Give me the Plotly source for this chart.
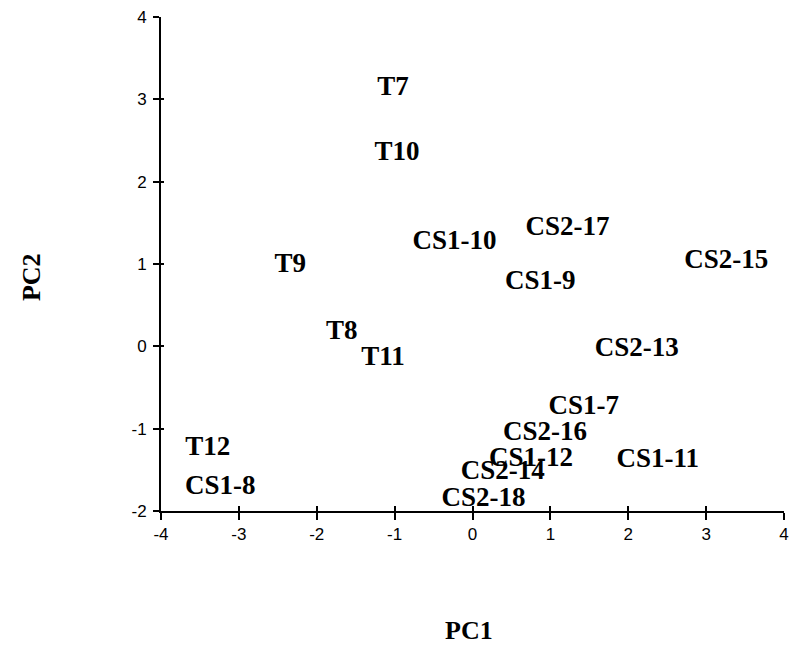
import plotly.graph_objects as go

labels = ["T7", "T10", "CS1-10", "CS2-17", "CS2-15", "T9", "CS1-9", "T8", "T11",
          "CS2-13", "CS1-7", "CS2-16", "CS1-12", "CS2-14", "CS2-18", "CS1-11",
          "T12", "CS1-8"]
pc1 = [-1.02, -0.97, -0.23, 1.22, 3.26, -2.34, 0.87, -1.68, -1.15,
       2.11, 1.43, 0.93, 0.75, 0.39, 0.14, 2.38, -3.40, -3.24]
pc2 = [3.13, 2.34, 1.27, 1.43, 1.03, 0.98, 0.78, 0.17, -0.15,
       -0.04, -0.74, -1.06, -1.37, -1.53, -1.86, -1.38, -1.24, -1.71]

x_ticks = [-4, -3, -2, -1, 0, 1, 2, 3, 4]
x_ticktext = ["-4", "-3", "-2", "-1", "0", "1", "2", "3", "4"]
y_ticks = [-2, -1, 0, 1, 2, 3, 4]
y_ticktext = ["-2", "-1", "0", "1", "2", "3", "4"]

fig = go.Figure()
fig.add_trace(go.Scatter(
    x=pc1, y=pc2, mode="text", text=labels, textposition="middle center",
    textfont=dict(family="Liberation Serif", size=27, color="black", weight="bold"),
    hoverinfo="skip", showlegend=False, cliponaxis=False))
# invisible trace on overlay axes to draw the inner halves of crossing ticks
fig.add_trace(go.Scatter(x=[0], y=[0], xaxis="x2", yaxis="y2", mode="markers",
                         marker=dict(opacity=0), showlegend=False, hoverinfo="skip"))

tickfont = dict(family="Liberation Sans", size=17, color="black")
fig.update_layout(
    width=794, height=648,
    margin=dict(l=161, r=5, t=17, b=137),
    paper_bgcolor="white", plot_bgcolor="white",
    xaxis=dict(range=[-4, 4], tickvals=x_ticks, ticktext=x_ticktext, showgrid=False,
               zeroline=False, showline=True, linecolor="black", linewidth=2,
               ticks="outside", ticklen=7, tickwidth=1.5, tickcolor="black",
               tickfont=tickfont),
    yaxis=dict(range=[-2, 4], tickvals=y_ticks, ticktext=y_ticktext, showgrid=False,
               zeroline=False, showline=True, linecolor="black", linewidth=2,
               ticks="outside", ticklen=6, tickwidth=1.5, tickcolor="black",
               tickfont=tickfont, ticklabelstandoff=3),
    xaxis2=dict(range=[-4, 4], tickvals=x_ticks, overlaying="x", anchor="y2",
                showgrid=False, zeroline=False, showline=False, ticks="inside",
                ticklen=5, tickwidth=1.5, tickcolor="black", showticklabels=False,
                side="bottom"),
    yaxis2=dict(range=[-2, 4], tickvals=y_ticks, overlaying="y", anchor="x2",
                showgrid=False, zeroline=False, showline=False, ticks="inside",
                ticklen=3, tickwidth=1.5, tickcolor="black", showticklabels=False,
                side="left"),
)
pw, ph = 794 - 161 - 5, 648 - 17 - 137
title_font = dict(family="Liberation Serif", size=26, color="black", weight="bold")
fig.add_annotation(text="PC1", x=(471 - 161) / pw, y=(648 - 137 - 630) / ph,
                   xref="paper", yref="paper", xanchor="center", yanchor="middle",
                   showarrow=False, font=title_font)
fig.add_annotation(text="PC2", x=(30 - 161) / pw, y=(648 - 137 - 277) / ph,
                   xref="paper", yref="paper", xanchor="center", yanchor="middle",
                   textangle=-90, showarrow=False, font=title_font)

fig.write_html("out.html")
